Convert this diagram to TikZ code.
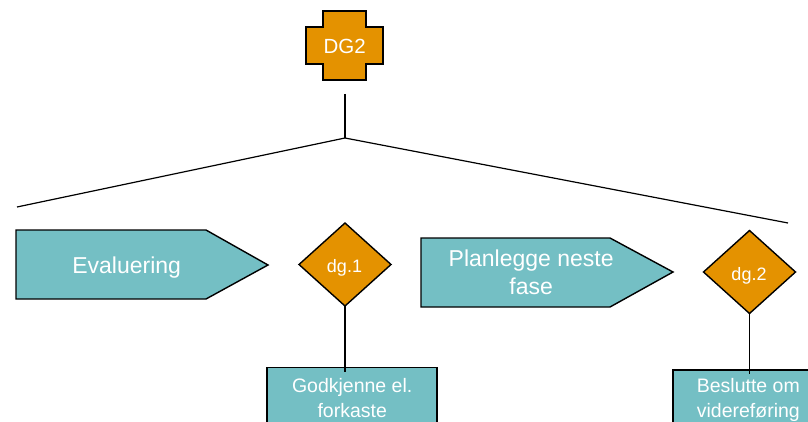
\documentclass[tikz,border=0pt]{standalone}
\usepackage{fontspec}
\setmainfont{Liberation Sans}
\usetikzlibrary{shapes.geometric}
\definecolor{tealfill}{RGB}{116,191,196}
\definecolor{orangefill}{RGB}{228,146,0}
\begin{document}
\begin{tikzpicture}[x=1pt,y=-1pt,
  shapeline/.style={draw=black,line width=1.4pt,line join=miter},
  conn/.style={draw=black,line width=1.8pt},
  treeline/.style={draw=black,line width=1.2pt},
  decision/.style={diamond,shapeline,fill=orangefill,minimum width=92pt,minimum height=83pt,inner sep=0pt,outer sep=0pt},
  infobox/.style={rectangle,shapeline,fill=tealfill,minimum height=90pt,inner sep=0pt,outer sep=0pt,anchor=north},
  biglbl/.style={text=white,font=\fontsize{23}{27.7}\selectfont,align=center,inner sep=0pt,anchor=base},
  boxlbl/.style={text=white,font=\fontsize{19.5}{25}\selectfont,align=center,inner sep=0pt,anchor=base},
  dlbl/.style={text=white,font=\fontsize{18}{22}\selectfont,inner sep=0pt,anchor=base}]
\clip (0,0) rectangle (808,422);
% DG2 cross
\draw[shapeline,fill=orangefill] (323,11) -- (366,11) -- (366,27) -- (383,27) -- (383,64) -- (366,64) -- (366,80) -- (323,80) -- (323,64) -- (306,64) -- (306,27) -- (323,27) -- cycle;
\node[text=white,font=\fontsize{20.5}{24}\selectfont,inner sep=0pt,anchor=base] (dg2) at (344.7,53.3) {DG2};
% tree
\coordinate (stem) at (345,94);
\coordinate (junc) at (345,138);
\coordinate (lend) at (17,207);
\coordinate (rend) at (788,223);
\draw[treeline] (stem) -- (junc);
\draw[treeline] (lend) -- (junc) -- (rend);
% Evaluering pentagon
\draw[shapeline,fill=tealfill] (16,230) -- (206,230) -- (268,265) -- (206,299) -- (16,299) -- cycle;
\node[biglbl] (eval) at (126.7,273.3) {Evaluering};
% Planlegge pentagon
\draw[shapeline,fill=tealfill] (421,238) -- (610,238) -- (673,272) -- (610,307) -- (421,307) -- cycle;
\node[biglbl] (plan) at (531.2,294.3) {Planlegge neste\\fase};
% decisions
\node[decision] (d1) at (345,264.5) {};
\node[dlbl] (d1t) at (344.5,272.3) {dg.1};
\node[decision] (d2) at (749.5,272) {};
\node[dlbl] (d2t) at (749,280) {dg.2};
% boxes
\node[infobox,minimum width=170pt] (b1) at (352,367.5) {};
\node[boxlbl] (b1t) at (352.2,417) {Godkjenne el.\\forkaste};
\node[infobox,minimum width=150pt] (b2) at (748,370) {};
\node[boxlbl] (b2t) at (748.3,417) {Beslutte om\\videreføring};
% connectors
\draw[conn] (d1.south) -- ([yshift=-4pt]d1.south |- b1.north);
\draw[conn] (d2.south) -- ([yshift=-4pt]d2.south |- b2.north);
\end{tikzpicture}
\end{document}
